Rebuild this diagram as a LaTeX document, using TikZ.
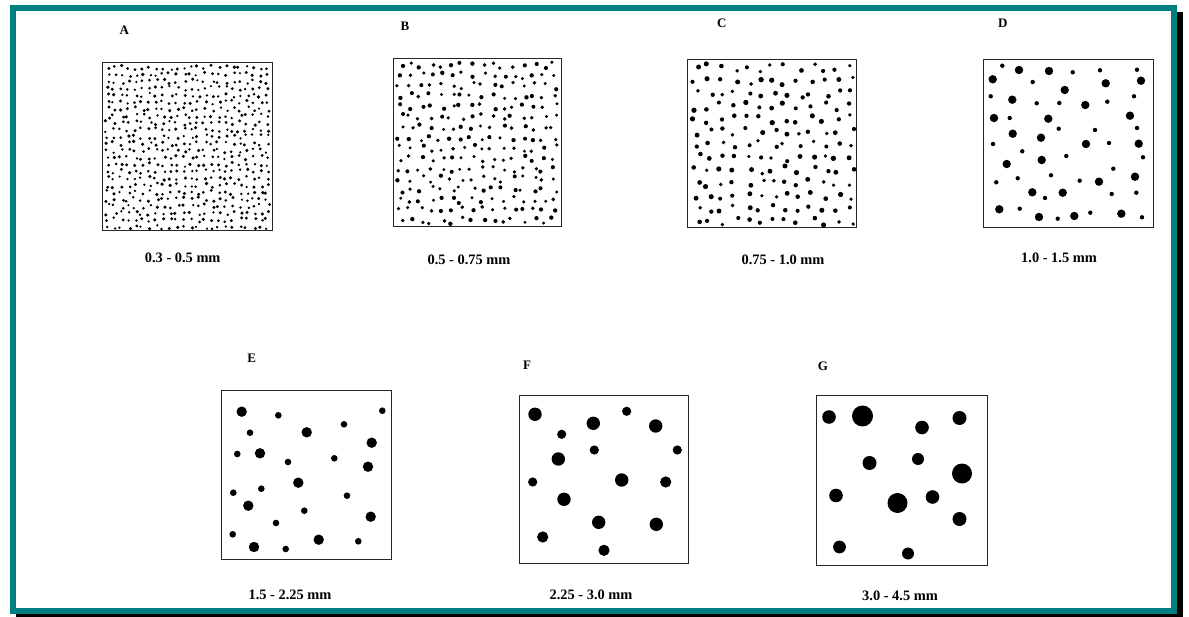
\documentclass[tikz,border=0pt]{standalone}
\usepackage{fontspec}
\setmainfont{Liberation Serif}
\definecolor{frameteal}{RGB}{0,128,128}
\begin{document}
\begin{tikzpicture}[x=1pt,y=-1pt,
  sample/.style={draw=black!85,line width=.9pt},
  grain/.style={fill=black},
  tag/.style={font=\fontsize{13}{15}\selectfont\bfseries},
  mmlabel/.style={font=\fontsize{14.4}{16}\selectfont\bfseries}]
  \useasboundingbox[fill=white] (0,0) rectangle (1189,617);
  % frame with shadow
  \fill[black] (16,12) rectangle (1183,617);
  \draw[frameteal,line width=6pt,fill=white] (13,8) rectangle (1174,610.7);
  \pgfmathsetseed{4211}
  % A
  \node[tag] (tA) at (124.3,30) {A};
  \draw[sample] (102.3,62.3) rectangle (272.7,230.7);
  \foreach \i in {0,...,23}{\foreach \j in {0,...,23}{
    \fill[grain] ({104+(\i+.5)*6.96+2.3*rand},{64+(\j+.5)*6.93+2.3*rand}) circle ({1.2+.6*rnd});}}
  \node[mmlabel] (sA) at (182.7,257.5) {0.3 - 0.5 mm};
  % B
  \node[tag] (tB) at (405,26.7) {B};
  \draw[sample] (393.3,58.3) rectangle (561,226.7);
  \foreach \i in {0,...,15}{\foreach \j in {0,...,15}{
    \fill[grain] ({395+(\i+.5)*10.25+3.4*rand},{60+(\j+.5)*10.35+3.4*rand}) circle ({1.6+.6*rnd});}}
  \node[mmlabel] (sB) at (469,260) {0.5 - 0.75 mm};
  % C
  \node[tag] (tC) at (721.7,23.3) {C};
  \draw[sample] (687.7,59.3) rectangle (856.7,227.3);
  \foreach \i in {0,...,12}{\foreach \j in {0,...,12}{
    \fill[grain] ({690+(\i+.5)*12.8+4.1*rand},{61.5+(\j+.5)*12.75+4.1*rand}) circle ({1.8+.9*rnd});}}
  \node[mmlabel] (sC) at (783,260) {0.75 - 1.0 mm};
  % D
  \node[tag] (tD) at (1002.7,23.3) {D};
  \draw[sample] (983.3,59) rectangle (1153.3,227.7);
  \foreach \x/\y/\r in {1019/70/4.2,1049/71/4.2,992.7/79.3/4.2,1105.7/83.3/4.2,
    1141/80.7/4.2,1064.7/90/4.2,1012.3/99.7/4.2,1085.3/105/4.2,994/118/4.2,
    1048.3/118.7/4.2,1130/115.7/4.2,1012.7/133.7/4.2,1041/137.7/4.2,1086/144/4.2,
    1138.7/143.7/4.2,1041.7/160/4.2,1006.7/164/4.2,1135/176.7/4.2,1099/181.7/4.2,
    1032.3/192.3/4.2,1062.7/192.7/4.2,999.3/209.3/4.2,1039/217/4.2,1074.3/216/4.2,
    1121.3/213.7/4.2,
    1002.3/65.7/2.2,1072.7/72.3/2.2,1100/70.3/2.2,1137/69.7/2.2,1032.7/82/2.2,
    990.7/96.3/2.2,1036.7/103.3/2.2,1059.3/103/2.2,1107.3/101.7/2.2,1134/96.3/2.2,
    1009.7/118/2.2,1058.7/128.7/2.2,1095/130/2.2,1137/128/2.2,993/144/2.2,
    1109/143/2.2,1022.3/151.3/2.2,1066.3/156/2.2,1143/157.3/2.2,1113.3/168.7/2.2,
    1051/175.3/2.2,1017.7/178.3/2.2,996.3/182.3/2.2,1079.7/180.7/2.2,1045/198/2.2,
    1111.7/194/2.2,1136.3/192.7/2.2,1019.7/208.7/2.2,1057.7/218.7/2.2,
    1090.3/212.7/2.2,1142/217.3/2.2}
    \fill[grain] (\x,\y) circle (\r);
  \node[mmlabel] (sD) at (1059,257.5) {1.0 - 1.5 mm};
  % E
  \node[tag] (tE) at (251.7,358) {E};
  \draw[sample] (221.7,390) rectangle (391,559);
  \foreach \x/\y/\r in {241.7/411.7/5.2,306.7/432.3/5.2,371.7/442.7/5.2,260/453.3/5.2,
    368/466.7/5.2,298.3/482.7/5.2,248.3/505.7/5.2,370.7/516.7/5.2,254/547/5.2,
    318.7/539.7/5.2,
    278.3/415.3/3.3,382.3/410.7/3.3,250/432.7/3.3,344/424.3/3.3,237.3/454/3.3,
    288/462/3.3,334.3/458.3/3.3,261.3/488.7/3.3,233.3/492.7/3.3,347/495.7/3.3,
    304.3/510.7/3.3,276/523/3.3,232.7/534.3/3.3,285.7/549/3.3,358.3/541.3/3.3}
    \fill[grain] (\x,\y) circle (\r);
  \node[mmlabel] (sE) at (290,595) {1.5 - 2.25 mm};
  % F
  \node[tag] (tF) at (527,365) {F};
  \draw[sample] (519,395) rectangle (688.3,563.3);
  \foreach \x/\y/\r in {535/414.3/6.7,593.3/423.3/6.7,655.7/426/6.7,558.3/459/6.7,
    621.7/480/6.7,564/499.3/6.7,598.7/522.3/6.7,656.3/524.3/6.7,
    665.7/482/5.6,542.7/537/5.6,604/550.3/5.6,
    626.7/411.3/4.6,561.7/434.3/4.6,594.3/450/4.6,677.3/450/4.6,532.7/482/4.6}
    \fill[grain] (\x,\y) circle (\r);
  \node[mmlabel] (sF) at (591,595) {2.25 - 3.0 mm};
  % G
  \node[tag] (tG) at (823,366) {G};
  \draw[sample] (816,395) rectangle (987,565);
  \foreach \x/\y/\r in {829/417/6.8,862.5/416/10.5,922/427.5/6.8,959.5/418/7,
    869.5/463/7,918/459/6,962/473.5/10,836/495.5/6.8,897.5/503/10,932.5/497/6.8,
    959.5/519/7,839.5/547/6.4,908/553.5/6}
    \fill[grain] (\x,\y) circle (\r);
  \node[mmlabel] (sG) at (900,596) {3.0 - 4.5 mm};
\end{tikzpicture}
\end{document}
